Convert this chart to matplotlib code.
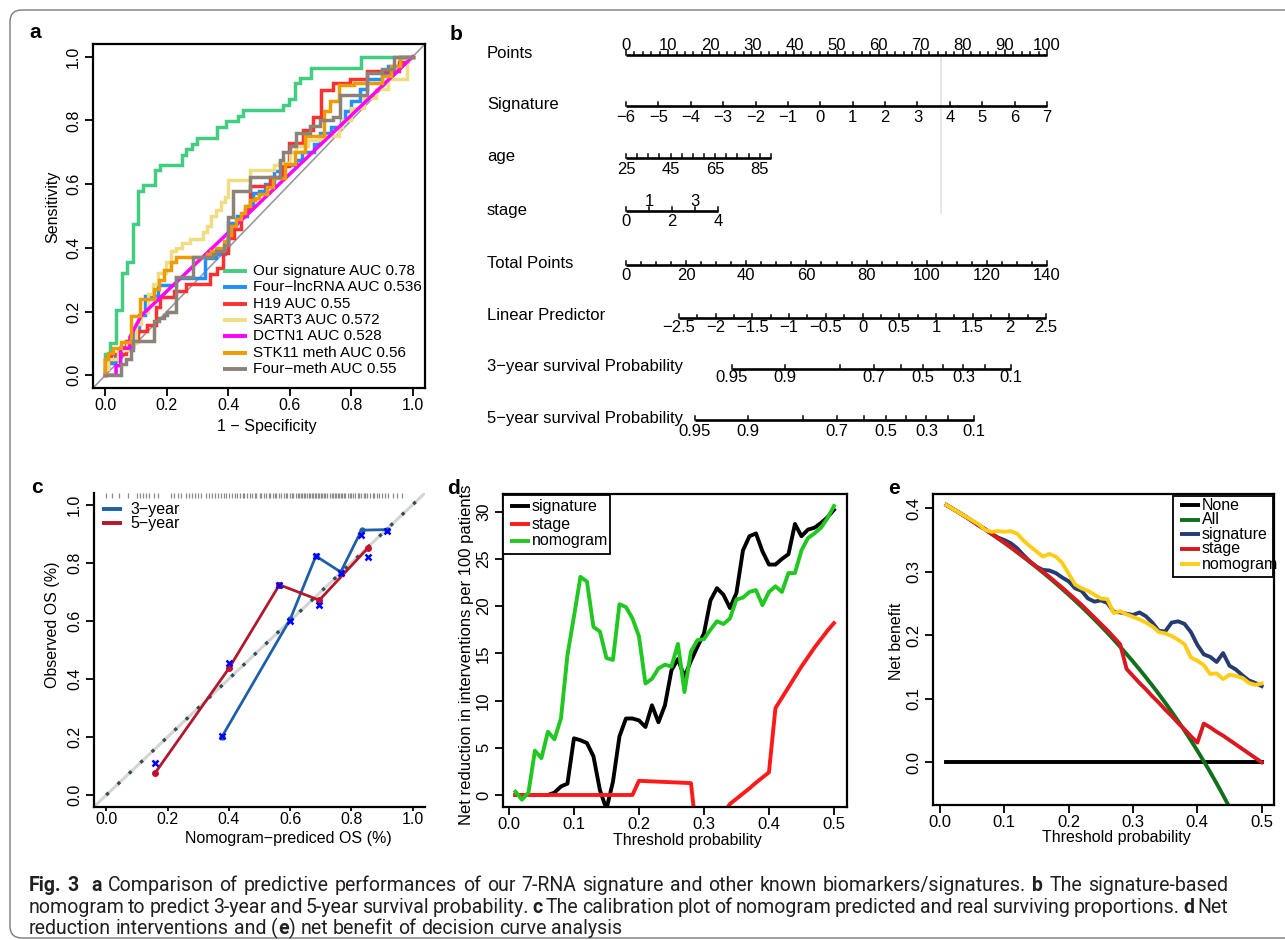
import numpy as np
import matplotlib
matplotlib.use("Agg")
import matplotlib.pyplot as plt
from matplotlib.lines import Line2D
from matplotlib.patches import FancyBboxPatch, Rectangle
from matplotlib.ticker import FormatStrFormatter
from matplotlib import font_manager as fm

plt.rcParams['font.family'] = ['Liberation Sans', 'DejaVu Sans']
W, H, DPI = 1285, 940, 100
MINUS = "\u2212"

# ======================= DATA =======================
# ---- (a) ROC curves (step corner points) ----
roc_names = ["Our signature AUC 0.78", "Four" + MINUS + "lncRNA AUC 0.536", "H19 AUC 0.55",
             "SART3 AUC 0.572", "DCTN1 AUC 0.528", "STK11 meth AUC 0.56", "Four" + MINUS + "meth AUC 0.55"]
roc_colors = ["#43CD80", "#1E90FF", "#FF3030", "#EEDD82", "#FF00FF", "#EE9A00", "#8B8378"]

sig_fpr = [0, 0.015, 0.034, 0.053, 0.069, 0.089, 0.105, 0.123, 0.161, 0.178, 0.248, 0.264, 0.283,
           0.297, 0.362, 0.394, 0.432, 0.448, 0.578, 0.597, 0.616, 0.634, 0.67, 0.832, 1.0]
sig_tpr = [0, 0.068, 0.10, 0.205, 0.32, 0.355, 0.475, 0.577, 0.596, 0.643, 0.661, 0.693, 0.71,
           0.727, 0.745, 0.78, 0.797, 0.813, 0.832, 0.847, 0.866, 0.918, 0.934, 0.965, 1.0]

lnc_fpr = [0, 0.01, 0.03, 0.05, 0.09, 0.11, 0.13, 0.17, 0.23, 0.324, 0.36, 0.39, 0.40, 0.43, 0.46,
           0.48, 0.50, 0.52, 0.55, 0.58, 0.62, 0.64, 0.68, 0.70, 0.735, 0.767, 0.78, 0.80, 0.83,
           0.85, 0.87, 0.90, 0.92, 0.96, 1.0]
lnc_tpr = [0, 0.02, 0.04, 0.06, 0.09, 0.14, 0.19, 0.25, 0.283, 0.304, 0.367, 0.38, 0.393, 0.477,
           0.50, 0.53, 0.572, 0.58, 0.60, 0.64, 0.66, 0.677, 0.70, 0.727, 0.76, 0.78, 0.80, 0.83,
           0.86, 0.90, 0.93, 0.93, 0.95, 0.97, 1.0]

h19_fpr = [0, 0.02, 0.068, 0.106, 0.135, 0.165, 0.177, 0.225, 0.263, 0.274, 0.34, 0.362, 0.383,
           0.40, 0.42, 0.44, 0.455, 0.47, 0.535, 0.578, 0.597, 0.643, 0.675, 0.703, 0.74, 0.795,
           0.85, 0.957, 0.98, 1.0]
h19_tpr = [0, 0.047, 0.066, 0.108, 0.14, 0.157, 0.215, 0.245, 0.265, 0.286, 0.286, 0.318, 0.336,
           0.383, 0.43, 0.46, 0.50, 0.52, 0.593, 0.624, 0.656, 0.729, 0.77, 0.81, 0.897, 0.918,
           0.93, 0.955, 0.985, 1.0]

sart_fpr = [0, 0.01, 0.04, 0.07, 0.10, 0.117, 0.139, 0.155, 0.17, 0.198, 0.214, 0.23, 0.25, 0.274,
            0.317, 0.33, 0.345, 0.36, 0.375, 0.39, 0.40, 0.47, 0.55, 0.565, 0.60, 0.62, 0.66,
            0.70, 0.76, 0.77, 0.80, 0.84, 0.88, 0.92, 0.98, 1.0]
sart_tpr = [0, 0.02, 0.05, 0.08, 0.10, 0.16, 0.20, 0.255, 0.285, 0.32, 0.355, 0.39, 0.40, 0.415,
            0.428, 0.45, 0.47, 0.50, 0.52, 0.545, 0.56, 0.612, 0.643, 0.66, 0.665, 0.70, 0.72,
            0.74, 0.75, 0.78, 0.80, 0.84, 0.87, 0.90, 0.93, 1.0]

dctn_fpr = [0, 0.035, 0.035, 0.05, 0.05, 0.08, 0.08, 0.117, 1.0]
dctn_tpr = [0, 0, 0.03, 0.03, 0.085, 0.085, 0.12, 0.187, 1.0]

stk_fpr = [0, 0.01, 0.025, 0.052, 0.085, 0.112, 0.16, 0.175, 0.19, 0.215, 0.23, 0.33, 0.345, 0.36,
           0.385, 0.40, 0.41, 0.425, 0.44, 0.455, 0.47, 0.486, 0.50, 0.525, 0.545, 0.583, 0.616,
           0.65, 0.713, 0.73, 0.76, 0.81, 0.90, 0.93, 0.96, 1.0]
stk_tpr = [0, 0.05, 0.07, 0.085, 0.103, 0.187, 0.239, 0.27, 0.30, 0.33, 0.355, 0.372, 0.38, 0.39,
           0.40, 0.42, 0.44, 0.47, 0.49, 0.51, 0.53, 0.549, 0.555, 0.57, 0.59, 0.62, 0.664, 0.70,
           0.75, 0.83, 0.86, 0.91, 0.918, 0.94, 0.97, 1.0]

meth_fpr = [0, 0.052, 0.068, 0.085, 0.09, 0.16, 0.175, 0.19, 0.20, 0.23, 0.285, 0.35, 0.36, 0.385,
            0.40, 0.415, 0.47, 0.567, 0.578, 0.60, 0.62, 0.665, 0.70, 0.74, 0.762, 0.85, 0.90,
            0.94, 1.0]
meth_tpr = [0, 0.0, 0.035, 0.05, 0.08, 0.108, 0.171, 0.18, 0.19, 0.20, 0.307, 0.37, 0.38, 0.39,
            0.41, 0.496, 0.58, 0.624, 0.677, 0.70, 0.72, 0.76, 0.782, 0.80, 0.81, 0.88, 0.95,
            0.96, 1.0]

# ---- (b) nomogram ----
nomo_rows = ["Points", "Signature", "age", "stage", "Total Points", "Linear Predictor",
             "3" + MINUS + "year survival Probability", "5" + MINUS + "year survival Probability"]
points_labels = [0, 10, 20, 30, 40, 50, 60, 70, 80, 90, 100]
sig_values = [-6, -5, -4, -3, -2, -1, 0, 1, 2, 3, 4, 5, 6, 7]
sig_span, sig_pts_span = [-6, 7], [0, 100]
age_labels = [25, 45, 65, 85]
age_ticks = [25, 30, 35, 40, 45, 50, 55, 60, 65, 70, 75, 80, 85, 90]
age_span, age_pts_span = [25, 90], [0, 34.4]
stage_values = [0, 1, 2, 3, 4]
stage_span, stage_pts_span = [0, 4], [0, 21.8]
total_labels = [0, 20, 40, 60, 80, 100, 120, 140]
lp_labels = [-2.5, -2, -1.5, -1, -0.5, 0, 0.5, 1, 1.5, 2, 2.5]
lp_span, lp_total_span = [-2.5, 2.5], [17.6, 139.7]
surv_probs = [0.95, 0.9, 0.8, 0.7, 0.6, 0.5, 0.4, 0.3, 0.2, 0.1]
surv_shown = [0.95, 0.9, 0.7, 0.5, 0.3, 0.1]
surv3_total = [35.2, 52.8, 71.1, 82.5, 91.3, 98.7, 105.5, 112.2, 119.3, 128.0]
surv5_total = [22.9, 40.5, 58.8, 70.2, 79.0, 86.4, 93.2, 99.9, 107.0, 115.7]
ref_line_points = 74.8

# ---- (c) calibration ----
cal3_pred = [0.377, 0.60, 0.684, 0.765, 0.833, 0.916]
cal3_obs = [0.20, 0.605, 0.823, 0.768, 0.912, 0.914]
cal5_pred = [0.16, 0.40, 0.565, 0.695, 0.854]
cal5_obs = [0.077, 0.436, 0.724, 0.671, 0.851]
corr_pred = [0.16, 0.377, 0.40, 0.565, 0.60, 0.684, 0.695, 0.765, 0.832, 0.854, 0.916]
corr_obs = [0.112, 0.205, 0.456, 0.722, 0.60, 0.823, 0.654, 0.765, 0.895, 0.82, 0.91]
rug_pred = [0.00, 0.02, 0.04, 0.07, 0.10, 0.11, 0.12, 0.13, 0.14, 0.155, 0.17,
            0.21, 0.22, 0.235, 0.245, 0.26, 0.27, 0.28, 0.29, 0.30, 0.31, 0.325, 0.335, 0.345,
            0.355, 0.365, 0.375, 0.385, 0.39, 0.40, 0.41, 0.42, 0.425, 0.435, 0.445, 0.45, 0.46,
            0.47, 0.475, 0.485, 0.49, 0.50, 0.505, 0.515, 0.52, 0.53, 0.535, 0.545, 0.55, 0.555,
            0.565, 0.57, 0.58, 0.585, 0.59, 0.60, 0.605, 0.61, 0.62, 0.625, 0.63, 0.635, 0.64,
            0.645, 0.65, 0.655, 0.66, 0.665, 0.67, 0.675, 0.68, 0.685, 0.69, 0.695, 0.70, 0.705,
            0.71, 0.715, 0.72, 0.73, 0.735, 0.74, 0.745, 0.75, 0.755, 0.76, 0.765, 0.77, 0.775,
            0.78, 0.79, 0.795, 0.80, 0.805, 0.81, 0.82, 0.825, 0.83, 0.84, 0.845, 0.85, 0.86,
            0.87, 0.875, 0.885, 0.89, 0.90, 0.91, 0.92, 0.935, 0.95, 0.965]

# ---- (d) net reduction in interventions ----
thresholds = [round(0.01 * i, 2) for i in range(1, 51)]
d_signature = [0, 0, 0, 0, 0, 0, 0.25, 0.9, 1.2, 6.0, 5.8, 5.5, 4.1, 0.5, -1.5, 1.4, 6.2, 8.1, 8.1, 7.9,
               7.2, 9.5, 7.7, 9.5, 13.2, 14.4, 12.5, 14.2, 15.7, 17.1, 20.6, 21.9, 21.2, 19.8, 21.4,
               25.9, 27.4, 27.7, 25.8, 24.4, 24.4, 25.0, 25.5, 28.7, 27.4, 28.1, 28.3, 28.8, 29.4, 30.2]
d_stage = [0, 0, 0, 0, 0, 0, 0, 0, 0, 0, 0, 0, 0, 0, 0, 0, 0, 0, 0,
           1.5, 1.47, 1.44, 1.41, 1.38, 1.35, 1.32, 1.29, 1.25,
           -5, -4.5, -4, -3, -2,
           -0.95, -0.4, 0.15, 0.7, 1.3, 1.85, 2.4,
           9.2, 10.3, 11.4, 12.5, 13.6, 14.6, 15.6, 16.5, 17.4, 18.2]
d_nomogram = [0.35, -0.5, 0.25, 4.7, 3.9, 6.7, 5.9, 8.1, 14.8, 18.9, 23.1, 22.6, 17.8, 17.3, 14.5,
              14.3, 20.2, 19.9, 18.7, 16.8, 11.8, 12.3, 13.4, 13.8, 13.6, 16.0, 10.9, 15.2, 16.4,
              16.5, 17.5, 18.4, 18.1, 18.7, 20.7, 20.9, 21.5, 21.7, 20.1, 21.5, 22.1, 21.5, 23.5,
              23.5, 25.9, 27.2, 27.7, 28.3, 29.3, 30.6]

# ---- (e) net benefit ----
e_none = [0.0] * 50
e_all = [0.4050, 0.3990, 0.3928, 0.3865, 0.3800, 0.3734, 0.3667, 0.3598, 0.3527, 0.3456,
         0.3382, 0.3307, 0.3230, 0.3151, 0.3071, 0.2988, 0.2904, 0.2817, 0.2728, 0.2638,
         0.2544, 0.2449, 0.2351, 0.2250, 0.2147, 0.2041, 0.1931, 0.1819, 0.1704, 0.1586,
         0.1464, 0.1338, 0.1209, 0.1076, 0.0939, 0.0797, 0.0651, 0.0500, 0.0344, 0.0183,
         0.0017, -0.0155, -0.0333, -0.0518, -0.0709, -0.0907, -0.1113, -0.1327, -0.1549, -0.1780]
e_signature = [0.405, 0.399, 0.393, 0.387, 0.380, 0.373, 0.367, 0.360, 0.354, 0.350,
               0.345, 0.337, 0.326, 0.316, 0.308, 0.303, 0.302, 0.298, 0.291, 0.285,
               0.274, 0.270, 0.258, 0.253, 0.255, 0.251, 0.237, 0.236, 0.234, 0.232,
               0.236, 0.230, 0.220, 0.207, 0.206, 0.220, 0.222, 0.218, 0.205, 0.185,
               0.170, 0.166, 0.158, 0.172, 0.152, 0.146, 0.137, 0.129, 0.125, 0.120]
e_stage = [0.405, 0.399, 0.393, 0.3865, 0.380, 0.3735, 0.367, 0.360, 0.353, 0.346,
           0.339, 0.331, 0.3235, 0.316, 0.308, 0.300, 0.292, 0.2835, 0.275, 0.266,
           0.257, 0.248, 0.238, 0.228, 0.218, 0.208, 0.197, 0.186,
           0.147, 0.136, 0.125, 0.115, 0.104, 0.094, 0.083, 0.073, 0.062, 0.052, 0.041, 0.031,
           0.061, 0.055, 0.048, 0.042, 0.035, 0.028, 0.021, 0.014, 0.007, 0.0]
e_nomogram = [0.405, 0.399, 0.393, 0.387, 0.381, 0.375, 0.366, 0.363, 0.364, 0.363,
              0.364, 0.360, 0.349, 0.340, 0.332, 0.324, 0.328, 0.324, 0.314, 0.297,
              0.280, 0.274, 0.270, 0.264, 0.258, 0.257, 0.235, 0.238, 0.233, 0.229,
              0.225, 0.220, 0.214, 0.205, 0.203, 0.199, 0.193, 0.186, 0.165, 0.160,
              0.153, 0.139, 0.140, 0.131, 0.138, 0.136, 0.133, 0.125, 0.122, 0.124]

caption_lines = [
    "**Fig. 3**  **a** Comparison of predictive performances of our 7-RNA signature and other known biomarkers/signatures. **b** The signature-based",
    "nomogram to predict 3-year and 5-year survival probability. **c** The calibration plot of nomogram predicted and real surviving proportions. **d** Net",
    "reduction interventions and (**e**) net benefit of decision curve analysis",
]

# ======================= FIGURE =======================
fig = plt.figure(figsize=(W / DPI, H / DPI), dpi=DPI)
fig.patch.set_facecolor("white")


def fx(x):
    return x / W


def fy(y):
    return 1 - y / H


def add_ax(l, t, r, b):
    return fig.add_axes([l / W, 1 - b / H, (r - l) / W, (b - t) / H])


def r_style(ax, box=True, size=11.5, xlen=5.5, xpad=2.0):
    for sp in ax.spines.values():
        sp.set_linewidth(1.6)
        sp.set_color("black")
    if not box:
        ax.spines["top"].set_visible(False)
        ax.spines["right"].set_visible(False)
    ax.tick_params(direction="out", width=1.3, labelsize=size, colors="black")
    ax.tick_params(axis="x", length=xlen, pad=xpad)
    ax.tick_params(axis="y", length=5.5, pad=3, labelrotation=90)
    for lab in ax.get_yticklabels():
        lab.set_verticalalignment("center")


def set_labels(ax, xl, xpos, yl, ypos, fs=11, yfs=None):
    ax.set_xlabel(xl, fontsize=fs)
    ax.xaxis.set_label_coords(*xpos)
    ax.xaxis.label.set_va("center")
    ax.set_ylabel(yl, fontsize=yfs or fs)
    ax.yaxis.set_label_coords(*ypos)
    ax.yaxis.label.set_va("center")
    ax.yaxis.label.set_ha("center")


def legend_rows(x0, x1, xt, ys, colors, labels, lw, fs):
    for y, c, l in zip(ys, colors, labels):
        fig.add_artist(Line2D([fx(x0), fx(x1)], [fy(y), fy(y)], color=c, lw=lw,
                              solid_capstyle="butt", zorder=5))
        fig.text(fx(xt), fy(y), l, fontsize=fs, va="center", ha="left", zorder=6)


# ---- panel labels ----
for lab, (x, y) in {"a": (35, 33), "b": (456, 35), "c": (37, 487), "d": (453, 489), "e": (894, 488)}.items():
    fig.text(fx(x), fy(y), lab, fontsize=15, fontweight="bold", ha="center", va="center")

# ---- (a) ROC ----
axa = add_ax(93, 44, 425, 388)
axa.plot([-0.04, 1.04], [-0.04, 1.04], color="#9a9a9a", lw=1.2, zorder=1)
roc_sets = [(sig_fpr, sig_tpr, "steps-pre"), (lnc_fpr, lnc_tpr, "steps-pre"),
            (h19_fpr, h19_tpr, "steps-pre"), (sart_fpr, sart_tpr, "steps-pre"),
            (dctn_fpr, dctn_tpr, "default"), (stk_fpr, stk_tpr, "steps-pre"),
            (meth_fpr, meth_tpr, "steps-pre")]
for (xs, ys, ds), col in zip(roc_sets, roc_colors):
    axa.plot(xs, ys, color=col, lw=2.5, drawstyle=ds, zorder=2, solid_joinstyle="miter")
axa.set_xlim(-0.04, 1.04)
axa.set_ylim(-0.04, 1.04)
axa.set_xticks([0, 0.2, 0.4, 0.6, 0.8, 1.0])
axa.set_yticks([0, 0.2, 0.4, 0.6, 0.8, 1.0])
axa.xaxis.set_major_formatter(FormatStrFormatter("%.1f"))
axa.yaxis.set_major_formatter(FormatStrFormatter("%.1f"))
r_style(axa, size=11.5)
set_labels(axa, "1 " + MINUS + " Specificity", (0.523, -0.1125), "Sensitivity", (-0.1205, 0.527), fs=11.5)
legend_rows(223, 247, 253, [271, 287.3, 303.7, 320, 336.3, 352.7, 369], roc_colors, roc_names, 2.8, 11)

# ---- (b) nomogram ----
PX0, PX100 = 626.0, 1047.0
ppx = (PX100 - PX0) / 100.0


def p2(px):
    return (px - PX0) / ppx


axb = add_ax(440, 20, 1285, 450)
axb.set_xlim(p2(440), p2(1285))
axb.set_ylim(450, 20)
axb.axis("off")

row_y = [54, 105, 157, 210, 264, 316, 367, 418]
for name, y in zip(nomo_rows, row_y):
    axb.text(p2(487), y, name, fontsize=12, ha="left", va="center")

LW_AX = 1.9


def nomo_line(y, a, b):
    axb.plot([a, b], [y, y], color="black", lw=LW_AX, solid_capstyle="butt")


def nomo_ticks(y, xs, length):
    for xv in xs:
        axb.plot([xv, xv], [y, y - length], color="black", lw=1.1)


def fmt(v):
    s = ("%g" % v)
    return s.replace("-", MINUS)


# Points
yP = 55
nomo_line(yP, 0, 100)
nomo_ticks(yP, points_labels, 5)
nomo_ticks(yP, [v for v in range(0, 101, 2) if v % 10], 2.5)
for v in points_labels:
    axb.text(v, 45, fmt(v), fontsize=12, ha="center", va="center")
# Signature
yS = 106
sig_pts = np.interp(sig_values, sig_span, sig_pts_span)
nomo_line(yS, sig_pts[0], sig_pts[-1])
nomo_ticks(yS, sig_pts, 4)
for v, xv in zip(sig_values, sig_pts):
    axb.text(xv, 117, fmt(v), fontsize=12, ha="center", va="center")
# age
yA = 158
age_tick_pts = np.interp(age_ticks, age_span, age_pts_span)
nomo_line(yA, age_tick_pts[0], age_tick_pts[-1])
nomo_ticks(yA, age_tick_pts, 4)
for v in age_labels:
    axb.text(np.interp(v, age_span, age_pts_span), 170, fmt(v), fontsize=12, ha="center", va="center")
# stage
ySt = 211
stage_pts = np.interp(stage_values, stage_span, stage_pts_span)
nomo_line(ySt, stage_pts[0], stage_pts[-1])
nomo_ticks(ySt, stage_pts, 4)
for v, xv in zip(stage_values, stage_pts):
    axb.text(xv, 201 if v % 2 else 222, fmt(v), fontsize=12, ha="center", va="center")
# reference line
axb.plot([ref_line_points, ref_line_points], [55, 213], color="#e3e3e3", lw=1.2, zorder=0)
# Total points
yT = 265
t2p = lambda t: np.asarray(t, dtype=float) * 100.0 / 140.0
nomo_line(yT, t2p(0), t2p(140))
nomo_ticks(yT, t2p(total_labels), 4)
nomo_ticks(yT, t2p([v for v in range(0, 141, 5) if v % 20]), 2.5)
for v in total_labels:
    axb.text(t2p(v), 276, fmt(v), fontsize=12, ha="center", va="center")
# Linear predictor
yL = 318
lp_pts = t2p(np.interp(lp_labels, lp_span, lp_total_span))
nomo_line(yL, lp_pts[0], lp_pts[-1])
nomo_ticks(yL, lp_pts, 4)
lp_minor = [v + 0.25 for v in lp_labels[:-1]]
nomo_ticks(yL, t2p(np.interp(lp_minor, lp_span, lp_total_span)), 2.5)
for v, xv in zip(lp_labels, lp_pts):
    axb.text(xv, 327, fmt(v), fontsize=12, ha="center", va="center")
# survival axes
for yy, ylab, tots in [(369, 378, surv3_total), (420, 432, surv5_total)]:
    sp = t2p(tots)
    nomo_line(yy, sp[0], sp[-1])
    nomo_ticks(yy, sp, 4)
    for pr, xv in zip(surv_probs, sp):
        if pr in surv_shown:
            axb.text(xv, ylab, fmt(pr), fontsize=12, ha="center", va="center")

# ---- (c) calibration ----
axc = add_ax(94, 493, 425, 806.7)
axc.plot([-0.04, 1.04], [-0.04, 1.04], color="#d4d4d4", lw=2.2, zorder=1)
axc.plot([0, 1.02], [0, 1.02], color="#2f4f4f", lw=2.4, ls=(0, (1, 3.7)), zorder=2)
axc.vlines(rug_pred, 1.022, 1.040, color="#8a8a8a", lw=0.9, clip_on=False)
axc.plot(cal3_pred, cal3_obs, color="#1f5fa8", lw=2.0, zorder=3)
axc.plot(cal3_pred, cal3_obs, "o", color="#1f5fa8", ms=3.5, zorder=3)
axc.plot(cal5_pred, cal5_obs, color="#b2182b", lw=2.0, zorder=3)
axc.plot(cal5_pred, cal5_obs, "o", color="#c8102e", ms=4, zorder=4)
axc.plot(corr_pred, corr_obs, "x", color="#0000ff", ms=5, mew=1.8, zorder=5)
axc.set_xlim(-0.04, 1.04)
axc.set_ylim(-0.04, 1.04)
axc.set_xticks([0, 0.2, 0.4, 0.6, 0.8, 1.0])
axc.set_yticks([0, 0.2, 0.4, 0.6, 0.8, 1.0])
axc.xaxis.set_major_formatter(FormatStrFormatter("%.1f"))
axc.yaxis.set_major_formatter(FormatStrFormatter("%.1f"))
r_style(axc, box=False, size=11.5, xlen=3.0, xpad=0.8)
set_labels(axc, "Nomogram" + MINUS + "prediced OS (%)", (0.586, -0.1), "Observed OS (%)", (-0.124, 0.579), fs=11.5)
legend_rows(101.7, 121.7, 130, [509.3, 523.3], ["#1f5fa8", "#b2182b"],
            ["3" + MINUS + "year", "5" + MINUS + "year"], 2.8, 11.5)

# ---- (d) net reduction ----
axd = add_ax(502.7, 494.3, 846.7, 806.7)
d_cols = ["black", "#ff1a1a", "#22c722"]
for ys, c in zip([d_signature, d_stage, d_nomogram], d_cols):
    axd.plot(thresholds, ys, color=c, lw=2.8, solid_joinstyle="round")
axd.set_xlim(-0.0096, 0.5196)
axd.set_ylim(-1.24, 31.84)
axd.set_xticks([0, 0.1, 0.2, 0.3, 0.4, 0.5])
axd.set_yticks([0, 5, 10, 15, 20, 25, 30])
axd.xaxis.set_major_formatter(FormatStrFormatter("%.1f"))
r_style(axd, size=12)
set_labels(axd, "Threshold probability", (0.537, -0.108),
           "Net reduction in interventions per 100 patients", (-0.106, 0.486), fs=11.5, yfs=12)
fig.add_artist(Rectangle((fx(503), fy(554)), (610 - 503) / W, (554 - 495) / H, facecolor="white",
                         edgecolor="black", lw=1.3, zorder=4))
legend_rows(510, 530, 532, [506, 524, 541], d_cols, ["signature", "stage", "nomogram"], 2.8, 11.5)

# ---- (e) net benefit ----
axe = add_ax(933.3, 494.3, 1274.3, 805)
e_cols = ["black", "#11701a", "#253c70", "#d8191f", "#ffcc1a"]
for ys, c in zip([e_none, e_all, e_signature, e_stage, e_nomogram], e_cols):
    axe.plot(thresholds, ys, color=c, lw=2.8, solid_joinstyle="round")
axe.set_xlim(-0.0104, 0.5196)
axe.set_ylim(-0.0672, 0.422)
axe.set_xticks([0, 0.1, 0.2, 0.3, 0.4, 0.5])
axe.set_yticks([0, 0.1, 0.2, 0.3, 0.4])
axe.xaxis.set_major_formatter(FormatStrFormatter("%.1f"))
axe.yaxis.set_major_formatter(FormatStrFormatter("%.1f"))
r_style(axe, size=12)
set_labels(axe, "Threshold probability", (0.538, -0.104), "Net benefit", (-0.109, 0.526), fs=11.5)
fig.add_artist(Rectangle((fx(1173.3), fy(576.7)), 100 / W, (576.7 - 496) / H, facecolor="white",
                         edgecolor="black", lw=1.3, zorder=4))
legend_rows(1180, 1200, 1201.7, [505, 520, 534.3, 549, 564], e_cols,
            ["None", "All", "signature", "stage", "nomogram"], 2.8, 11.5)

# ---- frame ----
fig.add_artist(FancyBboxPatch((10 / DPI, (H - 938) / DPI), 1300 / DPI, 928 / DPI,
                              boxstyle="round,pad=0,rounding_size=0.12",
                              transform=fig.dpi_scale_trans, fill=False, ec="#7a7a7a", lw=1.0))

# ---- caption ----
_names = {f.name for f in fm.fontManager.ttflist}
if "Liberation Sans Narrow" in _names:
    cap_fam = ["Liberation Sans Narrow", "DejaVu Sans"]
elif "Roboto" in _names:
    cap_fam = ["Roboto", "DejaVu Sans"]
else:
    cap_fam = ["Open Sans", "DejaVu Sans"]
renderer = fig.canvas.get_renderer()


def parse(line):
    words, cur, buf, bold, gap = [], [], "", False, 0
    i = 0
    while i < len(line):
        if line.startswith("**", i):
            if buf:
                cur.append((buf, bold)); buf = ""
            bold = not bold
            i += 2
            continue
        ch = line[i]
        if ch == " ":
            if buf:
                cur.append((buf, bold)); buf = ""
            if cur:
                words.append((gap, cur)); cur = []; gap = 0
            gap += 1
        else:
            buf += ch
        i += 1
    if buf:
        cur.append((buf, bold))
    if cur:
        words.append((gap, cur))
    return words


def tw(s, bold, size):
    t = fig.text(0, 0, s, fontsize=size, fontweight="bold" if bold else "normal", family=cap_fam)
    w = t.get_window_extent(renderer=renderer).width
    t.remove()
    return w


X0, TARGET = 29, 1199
parsed = [parse(l) for l in caption_lines]
s0 = 12.0
sp0 = tw("a a", False, s0) - tw("aa", False, s0)
fits = []
for words in parsed[:2]:
    nat = sum(sum(tw(t, b, s0) for t, b in segs) for g, segs in words) + sp0 * sum(g for g, s in words)
    fits.append(s0 * TARGET / nat)
cap_size = min(min(fits) * 1.02, 15)
space_w = tw("a a", False, cap_size) - tw("aa", False, cap_size)
for li, (words, yb) in enumerate(zip(parsed, [891, 913, 934])):
    widths = [[tw(t, b, cap_size) for t, b in segs] for g, segs in words]
    gaps = sum(g for g, s in words)
    if li < 2:
        gw = (TARGET - sum(sum(w) for w in widths)) / gaps
    else:
        gw = space_w
    x = X0
    for (g, segs), ws in zip(words, widths):
        x += g * gw
        for (t, b), w in zip(segs, ws):
            fig.text(fx(x), fy(yb), t, fontsize=cap_size, fontweight="bold" if b else "normal",
                     family=cap_fam, ha="left", va="baseline", color="#231f20")
            x += w

fig.savefig("out.png", dpi=DPI, facecolor="white")
